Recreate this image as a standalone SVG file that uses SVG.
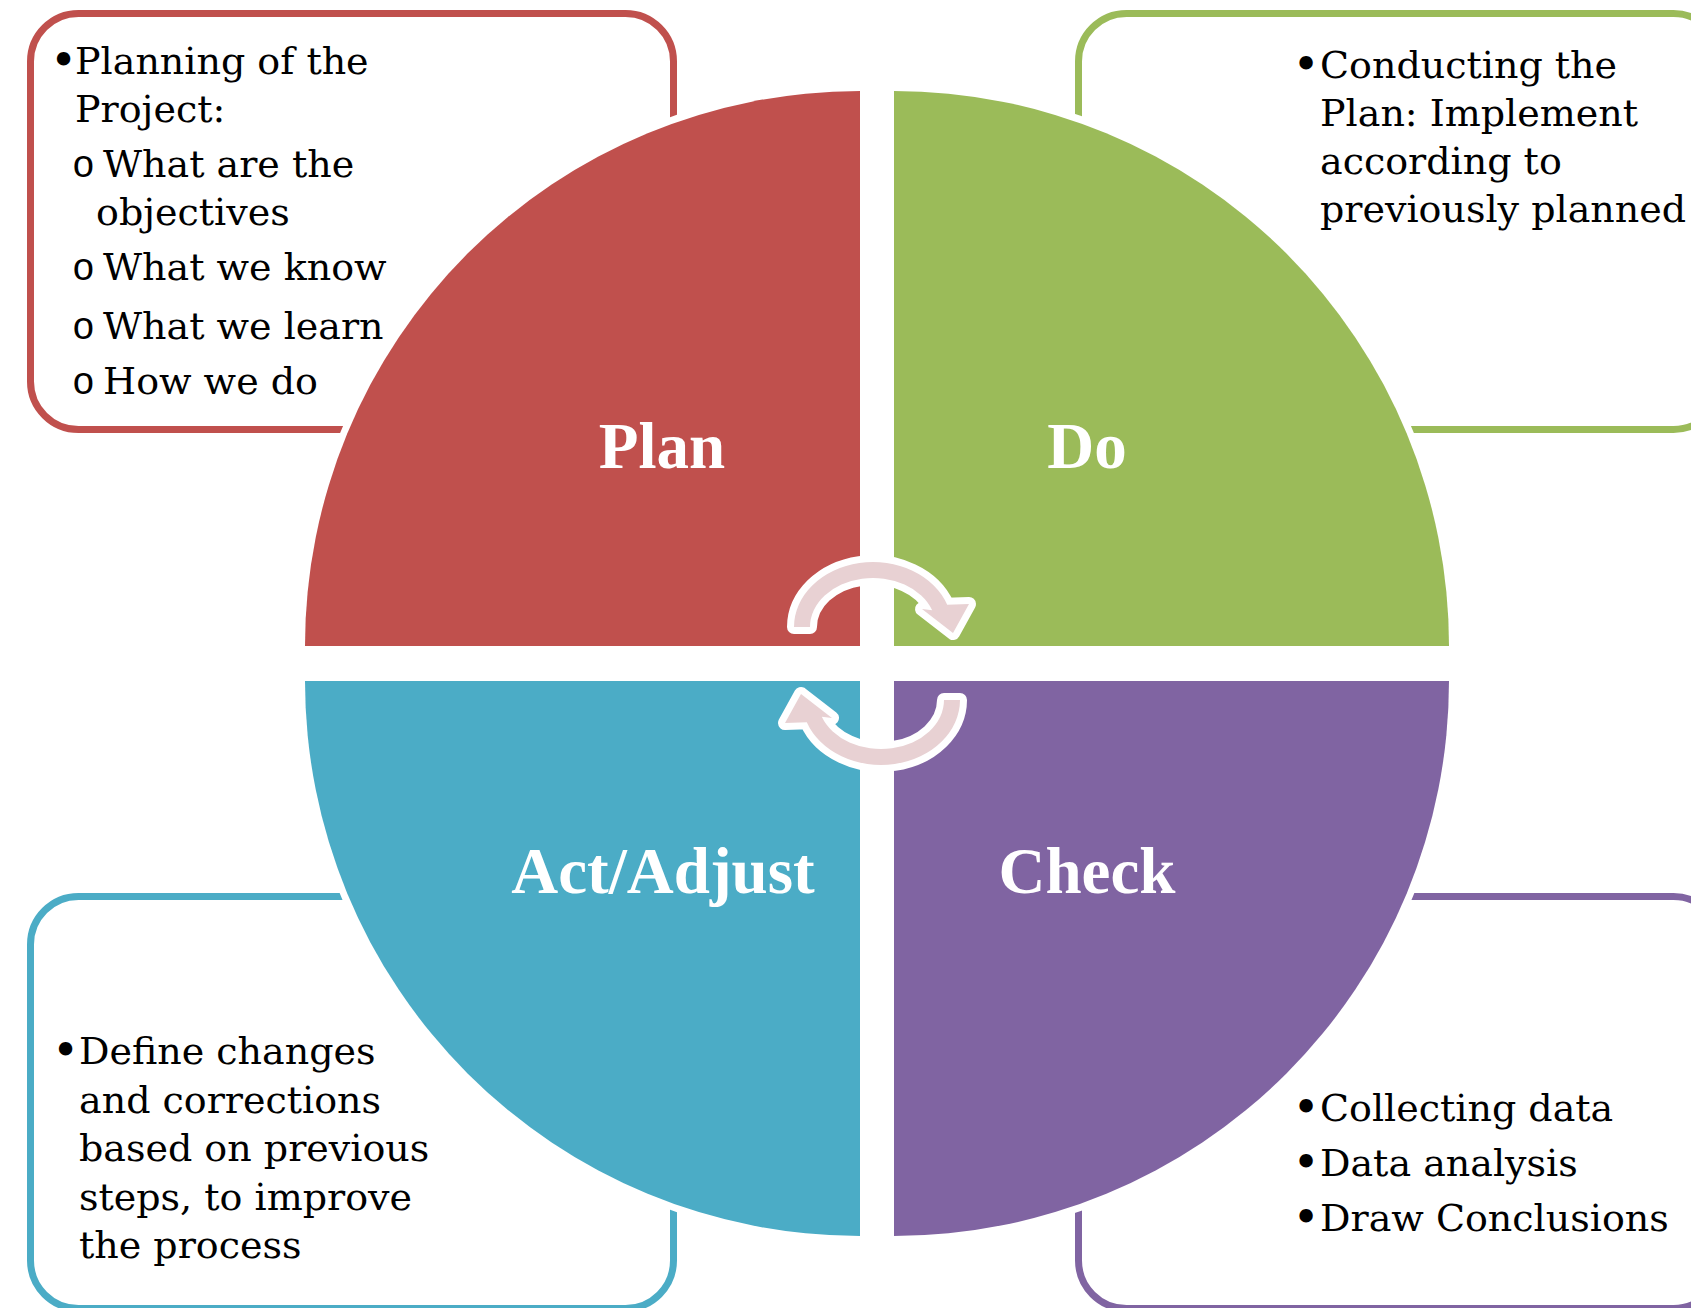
<svg xmlns="http://www.w3.org/2000/svg" xmlns:xlink="http://www.w3.org/1999/xlink" width="1691" height="1308" viewBox="0 0 1691 1308">
<style>
.box{fill:#FFFFFF;stroke-width:7}
.quad{stroke:#FFFFFF;stroke-width:14;paint-order:stroke fill;stroke-linejoin:miter}
.lbl{font-family:"Liberation Serif","Times New Roman",serif;font-weight:bold;font-size:65px;fill:#FFFFFF;text-anchor:middle}
.txt{font-family:"DejaVu Serif","Liberation Serif",serif;font-size:38px;fill:#000000}
.sub{font-family:"Liberation Mono","Courier New",monospace;font-size:38px}
.bul{font-size:46px}
.arrow{fill:#E8D1D3;stroke:#FFFFFF;stroke-width:14;stroke-linejoin:round;paint-order:stroke fill}
</style>
<defs>
<path id="circArrow" d="M794,627 A79,65 0 0 1 947.2,604.8 L969,604 L953,633 L922,609 L932.2,610.2 A63,49 0 0 0 810,627 Z"/>
</defs>
<rect width="1691" height="1308" fill="#FFFFFF"/>

<g id="box-plan">
<rect class="box" x="30.5" y="13.5" width="643" height="416" rx="48" stroke="#C0504D"/>
<text class="txt">
<tspan class="bul" x="50" y="76">•</tspan><tspan x="75" y="74">Planning of the</tspan>
<tspan x="75" y="122">Project:</tspan>
<tspan class="sub" x="72" y="177">o</tspan><tspan x="103" y="177">What are the</tspan>
<tspan x="96" y="225">objectives</tspan>
<tspan class="sub" x="72" y="280">o</tspan><tspan x="103" y="280">What we know</tspan>
<tspan class="sub" x="72" y="339">o</tspan><tspan x="103" y="339">What we learn</tspan>
<tspan class="sub" x="72" y="394">o</tspan><tspan x="103" y="394">How we do</tspan>
</text>
</g>

<g id="box-do">
<rect class="box" x="1078.5" y="13.5" width="643" height="416" rx="48" stroke="#9BBB59"/>
<text class="txt">
<tspan class="bul" x="1292.5" y="80">•</tspan><tspan x="1320" y="78">Conducting the</tspan>
<tspan x="1320" y="126">Plan: Implement</tspan>
<tspan x="1320" y="174">according to</tspan>
<tspan x="1320" y="222">previously planned</tspan>
</text>
</g>

<g id="box-act">
<rect class="box" x="30.5" y="896.5" width="643" height="412" rx="48" stroke="#4BACC6"/>
<text class="txt">
<tspan class="bul" x="52" y="1066">•</tspan><tspan x="79" y="1064">Define changes</tspan>
<tspan x="79" y="1113">and corrections</tspan>
<tspan x="79" y="1161">based on previous</tspan>
<tspan x="79" y="1210">steps, to improve</tspan>
<tspan x="79" y="1258">the process</tspan>
</text>
</g>

<g id="box-check">
<rect class="box" x="1078.5" y="896.5" width="643" height="412" rx="48" stroke="#8064A2"/>
<text class="txt">
<tspan class="bul" x="1292.5" y="1123">•</tspan><tspan x="1320" y="1121">Collecting data</tspan>
<tspan class="bul" x="1292.5" y="1178">•</tspan><tspan x="1320" y="1176">Data analysis</tspan>
<tspan class="bul" x="1292.5" y="1233">•</tspan><tspan x="1320" y="1231">Draw Conclusions</tspan>
</text>
</g>

<g id="node-plan">
<path class="quad" fill="#C0504D" d="M860,646 L305,646 A555,555 0 0 1 860,91 Z"/>
</g>
<g id="node-do">
<path class="quad" fill="#9BBB59" d="M894,646 L894,91 A555,555 0 0 1 1449,646 Z"/>
</g>
<g id="node-act">
<path class="quad" fill="#4BACC6" d="M860,681 L860,1236 A555,555 0 0 1 305,681 Z"/>
</g>
<g id="node-check">
<path class="quad" fill="#8064A2" d="M894,681 L1449,681 A555,555 0 0 1 894,1236 Z"/>
</g>

<g id="connectors">
<use xlink:href="#circArrow" href="#circArrow" class="arrow"/>
<use xlink:href="#circArrow" href="#circArrow" class="arrow" transform="rotate(180 877 663.5)"/>
</g>

<g id="labels">
<text class="lbl" x="662" y="468">Plan</text>
<text class="lbl" x="1087" y="468">Do</text>
<text class="lbl" x="663" y="893">Act/Adjust</text>
<text class="lbl" x="1087" y="893">Check</text>
</g>
</svg>
